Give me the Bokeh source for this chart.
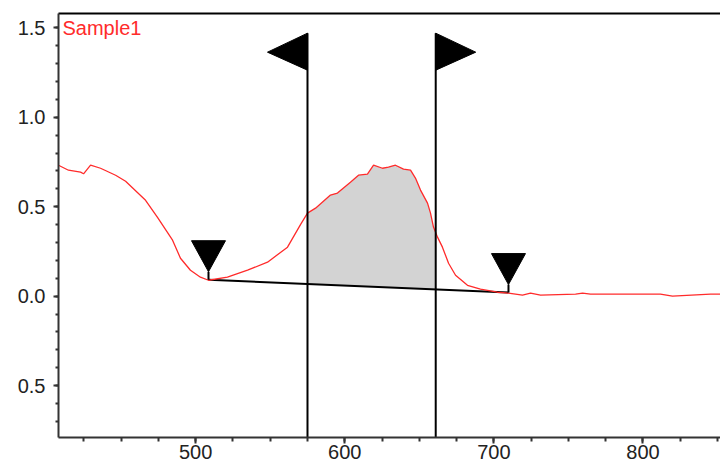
import numpy as np
from bokeh.plotting import figure
from bokeh.models import (SingleIntervalTicker, Label, Range1d, FixedTicker,
                          PrintfTickFormatter, LinearAxis)
from bokeh.embed import file_html
from bokeh.resources import INLINE

# ---------------- data ----------------
wavelength = [408, 414.7, 422.8, 424.8, 429.5, 436.2, 446.3, 453.0, 466.4, 474.4,
              484.5, 489.8, 496.5, 503.2, 508.6, 521.3, 534.8, 548.2, 561.6, 570.3,
              575.0, 580.4, 590.4, 595.1, 603.8, 609.2, 615.2, 619.3, 625.3, 629.3,
              634.0, 639.4, 644.1, 647.4, 650.8, 655.5, 657.5, 659.5, 662.2, 665.5,
              669.6, 674.3, 682.3, 691.0, 702.4, 709.8, 719.2, 724.6, 731.3, 754.8,
              759.5, 764.8, 811.7, 819.8, 845.3, 852]
absorbance = [0.732, 0.704, 0.693, 0.684, 0.732, 0.715, 0.676, 0.642, 0.536, 0.441,
              0.313, 0.212, 0.145, 0.106, 0.089, 0.106, 0.145, 0.190, 0.274, 0.400,
              0.464, 0.492, 0.565, 0.576, 0.637, 0.676, 0.682, 0.732, 0.715, 0.721,
              0.732, 0.710, 0.704, 0.660, 0.593, 0.520, 0.464, 0.386, 0.330, 0.274,
              0.184, 0.117, 0.061, 0.039, 0.022, 0.017, 0.006, 0.017, 0.006, 0.011,
              0.017, 0.011, 0.011, 0.000, 0.011, 0.011]

series_name = "Sample1"
baseline_x = [508.6, 709.8]          # peak limit markers
baseline_y = [0.092, 0.020]
cursor_x = [575.0, 661.0]            # integration cursors
x_ticks_major = 100
y_ticks_major = 0.5
y_label_overrides = {-0.5: "0.5"}

X0, X1 = 408, 852
Y0, Y1 = -0.79, 1.58

# ---------------- figure ----------------
W, H = 720, 467
FW, FH = 662, 424
p = figure(width=W, height=H, output_backend="svg", toolbar_location=None,
           x_range=Range1d(X0, X1), y_range=Range1d(Y0, Y1),
           min_border_left=58, min_border_top=13, min_border_right=0,
           min_border_bottom=30)
p.outline_line_color = None
p.grid.visible = False
p.background_fill_color = "white"
p.border_fill_color = "white"

px_x = (X1 - X0) / FW
px_y = (Y1 - Y0) / FH

# shaded integration area
xs = [cursor_x[0]] + [w for w in wavelength if cursor_x[0] < w < cursor_x[1]] + [cursor_x[1]]
top = np.interp(xs, wavelength, absorbance)
bot = np.interp(xs, baseline_x, baseline_y)
p.varea(x=xs, y1=bot, y2=top, fill_color="#d3d3d3")

# baseline
p.line(baseline_x, baseline_y, line_color="black", line_width=2)

# spectrum
p.line(wavelength, absorbance, line_color="#ff2b2b", line_width=1.3)

# cursors with flags
flag_top = 1.47
for i, cx in enumerate(cursor_x):
    p.segment(x0=[cx], y0=[Y0], x1=[cx], y1=[flag_top], line_color="black", line_width=2)
    d = -1 if i == 0 else 1
    fx = [cx, cx + d * 40 * px_x, cx]
    fy = [flag_top, flag_top - 19 * px_y, flag_top - 37 * px_y]
    p.patch(fx, fy, fill_color="black", line_color="black", line_width=1)

# peak limit markers (inverted triangles with a stem)
for bx, by in zip(baseline_x, baseline_y):
    tip = by + 8 * px_y
    p.segment(x0=[bx], y0=[by], x1=[bx], y1=[tip], line_color="black", line_width=2)
    tx = [bx - 17 * px_x, bx + 17 * px_x, bx]
    ty = [tip + 31 * px_y, tip + 31 * px_y, tip]
    p.patch(tx, ty, fill_color="black", line_color="black", line_width=1)

# top frame line: a bare axis above the frame
top_axis = LinearAxis(ticker=FixedTicker(ticks=[]),
                      major_tick_line_color=None, minor_tick_line_color=None,
                      axis_line_color="black", axis_line_width=2)
p.add_layout(top_axis, "above")

# series label
p.add_layout(Label(x=X0 + 4 * px_x, y=Y1 - 3 * px_y, text=series_name,
                   text_color="#ff2b2b", text_font="Liberation Sans",
                   text_font_size="20px", text_baseline="top", text_align="left"))

# axes
xa = p.below[0]
xa.ticker = SingleIntervalTicker(interval=x_ticks_major, num_minor_ticks=4)
ya = p.yaxis[0]
ya.ticker = SingleIntervalTicker(interval=y_ticks_major, num_minor_ticks=5)
ya.formatter = PrintfTickFormatter(format="%.1f")
ya.major_label_overrides = y_label_overrides
for ax in (xa, ya):
    ax.axis_line_color = "#333333"
    ax.axis_line_width = 2
    ax.major_tick_line_color = "#333333"
    ax.major_tick_line_width = 2
    ax.minor_tick_line_color = "#333333"
    ax.minor_tick_line_width = 2
    ax.major_tick_in = 0
    ax.minor_tick_in = 0
    ax.major_label_text_font = "Liberation Sans"
    ax.major_label_text_font_size = "20px"
    ax.major_label_text_color = "#222222"
xa.major_tick_out = 6
xa.minor_tick_out = 4
xa.major_label_standoff = 1
ya.major_tick_out = 5
ya.minor_tick_out = 3
ya.major_label_standoff = 8

open("out.html", "w").write(file_html(p, INLINE))
